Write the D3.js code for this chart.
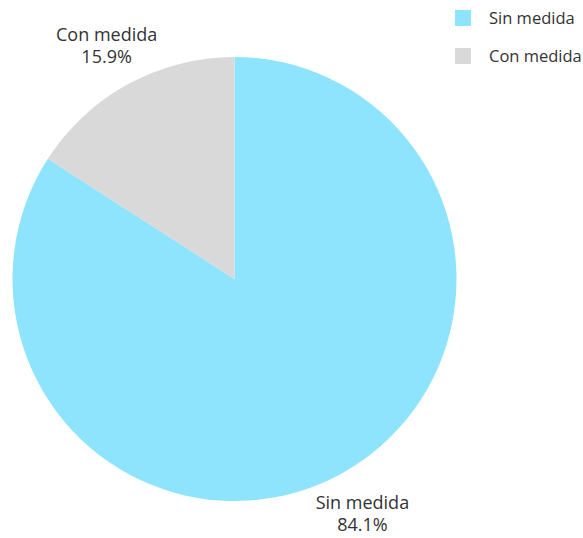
<!DOCTYPE html>
<html><head><meta charset="utf-8">
<script src="https://cdn.jsdelivr.net/npm/d3@7"></script>
<style>body{margin:0;background:#fff;}svg{display:block;}</style>
</head><body>
<svg id="c" width="583" height="538"></svg>
<script>
const categories = ["Sin medida", "Con medida"];
const values = [84.1, 15.9];
const colors = ["#8ee3fd", "#d9d9d9"];

const svg = d3.select("#c");
const cx = 234.5, cy = 279, r = 222, lr = 267;
const color = d3.scaleOrdinal().domain(categories).range(colors);
const pie = d3.pie().sort(null).value(d => d.v);
const data = pie(categories.map((c, i) => ({c, v: values[i]})));
const arc = d3.arc().innerRadius(0).outerRadius(r);
const g = svg.append("g").attr("transform", `translate(${cx},${cy})`);
g.selectAll("path").data(data).join("path").attr("d", arc).attr("fill", d => color(d.data.c));
const lab = d3.arc().innerRadius(lr).outerRadius(lr);
const t = g.selectAll("text").data(data).join("text")
  .attr("transform", d => `translate(${lab.centroid(d)})`)
  .attr("text-anchor", "middle")
  .style("font-family", "'Open Sans'").style("font-size", "18px").attr("fill", "#333");
t.append("tspan").attr("x", 0).attr("y", -4).text(d => d.data.c);
t.append("tspan").attr("x", 0).attr("y", 18).text(d => d.data.v.toFixed(1) + "%");

const leg = svg.append("g").selectAll("g").data(categories).join("g")
  .attr("transform", (d, i) => `translate(455,${10 + i * 38})`);
leg.append("rect").attr("width", 16).attr("height", 16).attr("fill", d => color(d));
leg.append("text").attr("x", 34).attr("y", 14).text(d => d)
  .style("font-family", "'Open Sans'").style("font-size", "16.5px").attr("fill", "#333");
</script>
</body></html>
